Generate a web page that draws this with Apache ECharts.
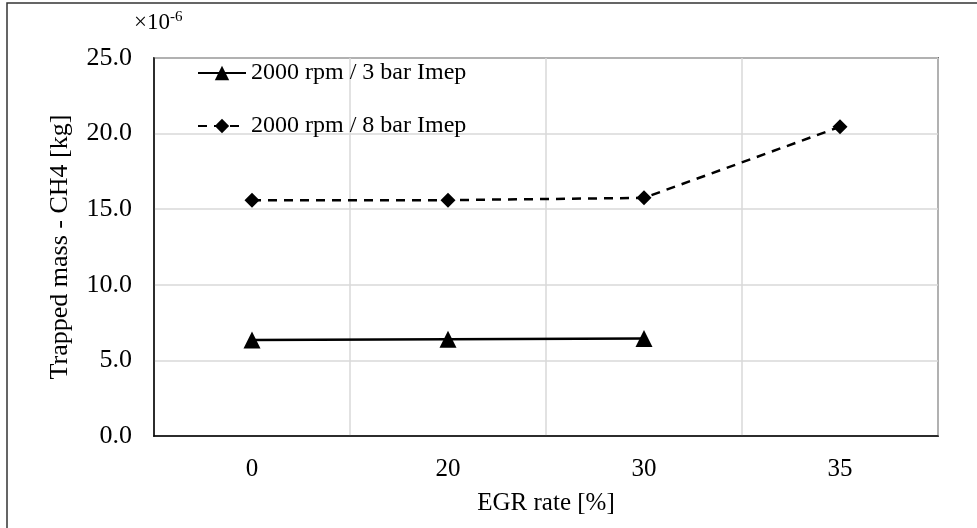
<!DOCTYPE html>
<html>
<head>
<meta charset="utf-8">
<script src="https://cdn.jsdelivr.net/npm/echarts@6/dist/echarts.min.js"></script>
<style>
  html, body { margin: 0; padding: 0; background: #fff; }
  #main { width: 977px; height: 528px; }
</style>
</head>
<body>
<div id="main"></div>
<script>
// EGR rate categories (x axis)
var egrRates = ['0', '20', '30', '35'];
// trapped CH4 mass, in 1e-6 kg
var imep3 = [6.35, 6.4, 6.45, null];
var imep8 = [15.6, 15.6, 15.75, 20.45];
var seriesNames = ['2000 rpm / 3 bar Imep', '2000 rpm / 8 bar Imep'];

var font = 'Liberation Serif, Times New Roman, serif';
var myChart = echarts.init(document.getElementById('main'));
var option = {
  backgroundColor: '#fff',
  animation: false,
  textStyle: { fontFamily: font, color: '#000' },
  graphic: [
    {
      type: 'rect',
      shape: { x: 7, y: 3, width: 1000, height: 600 },
      style: { fill: 'none', stroke: '#333', lineWidth: 1.5 }
    },
    {
      type: 'text',
      left: 134,
      top: 10,
      style: {
        text: '{a|×10}{b|-6}',
        rich: {
          a: { fontFamily: font, fontSize: 23, fill: '#000' },
          b: { fontFamily: font, fontSize: 15, fill: '#000', verticalAlign: 'top', padding: [0, 0, 10, 0] }
        }
      }
    }
  ],
  grid: {
    left: 154,
    right: 39,
    top: 58,
    bottom: 92,
    show: true,
    borderColor: '#000',
    borderWidth: 1.5
  },
  legend: {
    orient: 'vertical',
    left: 197,
    top: 61,
    padding: 0,
    itemGap: 29,
    itemWidth: 48,
    itemHeight: 18,
    textStyle: { fontFamily: font, fontSize: 24, color: '#000' },
    data: seriesNames
  },
  xAxis: {
    type: 'category',
    data: egrRates,
    name: 'EGR rate [%]',
    nameLocation: 'middle',
    nameGap: 55,
    nameTextStyle: { fontFamily: font, fontSize: 25, color: '#000' },
    axisLine: { lineStyle: { color: '#000', width: 1.5 } },
    axisTick: { show: false },
    axisLabel: { fontFamily: font, fontSize: 25, color: '#000', margin: 21 },
    splitLine: { show: true, interval: 0, lineStyle: { color: '#d9d9d9', width: 1.5 } }
  },
  yAxis: {
    type: 'value',
    min: 0,
    max: 25,
    interval: 5,
    name: 'Trapped mass - CH4 [kg]',
    nameLocation: 'middle',
    nameGap: 81,
    nameTextStyle: { fontFamily: font, fontSize: 26, color: '#000' },
    axisLine: { show: true, lineStyle: { color: '#000', width: 1.5 } },
    axisTick: { show: false },
    axisLabel: {
      fontFamily: font, fontSize: 26, color: '#000', margin: 22,
      formatter: function (v) { return v.toFixed(1); }
    },
    splitLine: { lineStyle: { color: '#d9d9d9', width: 1.5 } }
  },
  series: [
    {
      name: seriesNames[0],
      type: 'line',
      data: imep3,
      symbol: 'triangle',
      symbolSize: 17,
      itemStyle: { color: '#000' },
      lineStyle: { color: '#000', width: 2.5, type: 'solid' }
    },
    {
      name: seriesNames[1],
      type: 'line',
      data: imep8,
      symbol: 'diamond',
      symbolSize: 15,
      itemStyle: { color: '#000' },
      lineStyle: { color: '#000', width: 2.5, type: [9, 7] }
    }
  ]
};
myChart.setOption(option);
window.onresize = myChart.resize;
</script>
</body>
</html>
